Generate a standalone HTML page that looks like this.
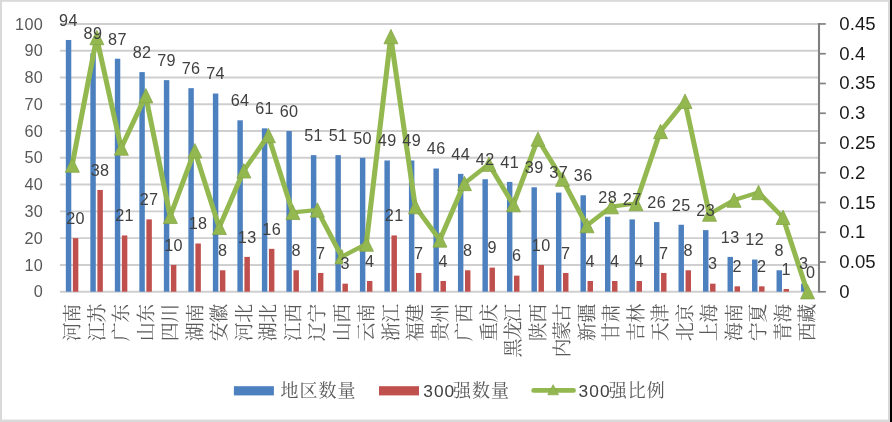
<!DOCTYPE html>
<html lang="zh"><head><meta charset="utf-8"><title>地区数量 / 300强数量 / 300强比例</title>
<style>html,body{margin:0;padding:0;background:#fff}svg{display:block;will-change:transform}text{font-family:"Liberation Sans",sans-serif}.cjk text{font-family:"Liberation Serif","Noto Serif CJK SC",serif}</style></head><body>
<svg width="892" height="422" viewBox="0 0 892 422">
<rect width="892" height="422" fill="#fff"/>
<g stroke="#CFCFD1" stroke-width="1.95">
<line x1="59.9" y1="291.7" x2="819.62" y2="291.7"/>
<line x1="59.9" y1="264.92" x2="819.62" y2="264.92"/>
<line x1="59.9" y1="238.14" x2="819.62" y2="238.14"/>
<line x1="59.9" y1="211.36" x2="819.62" y2="211.36"/>
<line x1="59.9" y1="184.58" x2="819.62" y2="184.58"/>
<line x1="59.9" y1="157.8" x2="819.62" y2="157.8"/>
<line x1="59.9" y1="131.02" x2="819.62" y2="131.02"/>
<line x1="59.9" y1="104.24" x2="819.62" y2="104.24"/>
<line x1="59.9" y1="77.46" x2="819.62" y2="77.46"/>
<line x1="59.9" y1="50.68" x2="819.62" y2="50.68"/>
<line x1="59.9" y1="23.9" x2="819.62" y2="23.9"/>
</g>
<g fill="#4D80BE"><rect x="65.83" y="39.97" width="5.45" height="251.73"/><rect x="90.34" y="53.36" width="5.45" height="238.34"/><rect x="114.84" y="58.71" width="5.45" height="232.99"/><rect x="139.35" y="72.1" width="5.45" height="219.6"/><rect x="163.86" y="80.14" width="5.45" height="211.56"/><rect x="188.37" y="88.17" width="5.45" height="203.53"/><rect x="212.87" y="93.53" width="5.45" height="198.17"/><rect x="237.38" y="120.31" width="5.45" height="171.39"/><rect x="261.89" y="128.34" width="5.45" height="163.36"/><rect x="286.39" y="131.02" width="5.45" height="160.68"/><rect x="310.9" y="155.12" width="5.45" height="136.58"/><rect x="335.41" y="155.12" width="5.45" height="136.58"/><rect x="359.91" y="157.8" width="5.45" height="133.9"/><rect x="384.42" y="160.48" width="5.45" height="131.22"/><rect x="408.93" y="160.48" width="5.45" height="131.22"/><rect x="433.44" y="168.51" width="5.45" height="123.19"/><rect x="457.94" y="173.87" width="5.45" height="117.83"/><rect x="482.45" y="179.22" width="5.45" height="112.48"/><rect x="506.96" y="181.9" width="5.45" height="109.8"/><rect x="531.46" y="187.26" width="5.45" height="104.44"/><rect x="555.97" y="192.61" width="5.45" height="99.09"/><rect x="580.48" y="195.29" width="5.45" height="96.41"/><rect x="604.98" y="216.72" width="5.45" height="74.98"/><rect x="629.49" y="219.39" width="5.45" height="72.31"/><rect x="654" y="222.07" width="5.45" height="69.63"/><rect x="678.5" y="224.75" width="5.45" height="66.95"/><rect x="703.01" y="230.11" width="5.45" height="61.59"/><rect x="727.52" y="256.89" width="5.45" height="34.81"/><rect x="752.03" y="259.56" width="5.45" height="32.14"/><rect x="776.53" y="270.28" width="5.45" height="21.42"/><rect x="801.04" y="283.67" width="5.45" height="8.03"/></g>
<g fill="#C0504D"><rect x="72.88" y="238.14" width="5.45" height="53.56"/><rect x="97.39" y="189.94" width="5.45" height="101.76"/><rect x="121.89" y="235.46" width="5.45" height="56.24"/><rect x="146.4" y="219.39" width="5.45" height="72.31"/><rect x="170.91" y="264.92" width="5.45" height="26.78"/><rect x="195.41" y="243.5" width="5.45" height="48.2"/><rect x="219.92" y="270.28" width="5.45" height="21.42"/><rect x="244.43" y="256.89" width="5.45" height="34.81"/><rect x="268.94" y="248.85" width="5.45" height="42.85"/><rect x="293.44" y="270.28" width="5.45" height="21.42"/><rect x="317.95" y="272.95" width="5.45" height="18.75"/><rect x="342.46" y="283.67" width="5.45" height="8.03"/><rect x="366.96" y="280.99" width="5.45" height="10.71"/><rect x="391.47" y="235.46" width="5.45" height="56.24"/><rect x="415.98" y="272.95" width="5.45" height="18.75"/><rect x="440.49" y="280.99" width="5.45" height="10.71"/><rect x="464.99" y="270.28" width="5.45" height="21.42"/><rect x="489.5" y="267.6" width="5.45" height="24.1"/><rect x="514.01" y="275.63" width="5.45" height="16.07"/><rect x="538.51" y="264.92" width="5.45" height="26.78"/><rect x="563.02" y="272.95" width="5.45" height="18.75"/><rect x="587.53" y="280.99" width="5.45" height="10.71"/><rect x="612.03" y="280.99" width="5.45" height="10.71"/><rect x="636.54" y="280.99" width="5.45" height="10.71"/><rect x="661.05" y="272.95" width="5.45" height="18.75"/><rect x="685.56" y="270.28" width="5.45" height="21.42"/><rect x="710.06" y="283.67" width="5.45" height="8.03"/><rect x="734.57" y="286.34" width="5.45" height="5.36"/><rect x="759.08" y="286.34" width="5.45" height="5.36"/><rect x="783.58" y="289.02" width="5.45" height="2.68"/></g>
<g stroke="#808080" fill="none">
<line x1="819" y1="23.01" x2="819" y2="292.55" stroke-width="2.1"/>
<line x1="819" y1="291.8" x2="825.8" y2="291.8" stroke-width="1.7"/>
<line x1="819" y1="262.04" x2="825.8" y2="262.04" stroke-width="1.7"/>
<line x1="819" y1="232.28" x2="825.8" y2="232.28" stroke-width="1.7"/>
<line x1="819" y1="202.52" x2="825.8" y2="202.52" stroke-width="1.7"/>
<line x1="819" y1="172.76" x2="825.8" y2="172.76" stroke-width="1.7"/>
<line x1="819" y1="143" x2="825.8" y2="143" stroke-width="1.7"/>
<line x1="819" y1="113.24" x2="825.8" y2="113.24" stroke-width="1.7"/>
<line x1="819" y1="83.48" x2="825.8" y2="83.48" stroke-width="1.7"/>
<line x1="819" y1="53.72" x2="825.8" y2="53.72" stroke-width="1.7"/>
<line x1="819" y1="23.96" x2="825.8" y2="23.96" stroke-width="1.7"/>
</g>
<g transform="scale(1,0.8235)"><polyline fill="none" stroke="#94B850" stroke-width="5.1" stroke-linejoin="round" stroke-linecap="round" points="72.15,200.43 96.66,45.62 121.17,179.75 145.67,116.23 170.18,262.72 194.69,183.03 219.2,276.07 243.7,207.4 268.21,164.64 292.72,257.84 317.22,255.01 341.73,311.69 366.24,296.39 390.74,44.46 415.25,250.96 439.76,291.36 464.27,222.8 488.77,199.33 513.28,248.44 537.79,168.89 562.29,217.47 586.8,273.9 611.31,250.96 635.81,247.13 660.32,159.62 684.83,122.93 709.34,259.94 733.84,243.02 758.35,233.75 782.86,263.86 807.36,354.21"/></g>
<path fill="#94B850" stroke="#86A647" stroke-width="0.8" stroke-linejoin="miter" d="M72.35 157.86L79.35 172.26H65.35ZM96.86 30.37L103.86 44.77H89.86ZM121.37 140.83L128.37 155.23H114.37ZM145.87 88.52L152.87 102.92H138.87ZM170.38 209.16L177.38 223.56H163.38ZM194.89 143.53L201.89 157.93H187.89ZM219.4 220.15L226.4 234.55H212.4ZM243.9 163.6L250.9 178H236.9ZM268.41 128.38L275.41 142.78H261.41ZM292.92 205.14L299.92 219.54H285.92ZM317.42 202.81L324.42 217.21H310.42ZM341.93 249.49L342.93 251.69L342.63 263.89H334.93ZM366.44 236.88L373.44 251.28H359.44ZM390.94 29.41L397.94 43.81H383.94ZM415.45 199.47L422.45 213.87H408.45ZM439.96 232.74L446.96 247.14H432.96ZM464.47 176.28L471.47 190.68H457.47ZM488.97 156.96L495.97 171.36H481.97ZM513.48 197.4L520.48 211.8H506.48ZM537.99 131.88L544.99 146.28H530.99ZM562.49 171.89L569.49 186.29H555.49ZM587 218.37L594 232.77H580ZM611.51 199.47L618.51 213.87H604.51ZM636.01 196.32L643.01 210.72H629.01ZM660.52 124.25L667.52 138.65H653.52ZM685.03 94.04L692.03 108.44H678.03ZM709.54 206.87L716.54 221.27H702.54ZM734.04 192.93L741.04 207.33H727.04ZM758.55 185.3L765.55 199.7H751.55ZM783.06 210.1L790.06 224.5H776.06ZM807.56 284.5L814.56 298.9H800.56Z"/>
<g font-size="16.2" fill="#595959" text-anchor="end" letter-spacing="0.4">
<text x="43.25" y="297.3">0</text>
<text x="43.25" y="270.52">10</text>
<text x="43.25" y="243.74">20</text>
<text x="43.25" y="216.96">30</text>
<text x="43.25" y="190.18">40</text>
<text x="43.25" y="163.4">50</text>
<text x="43.25" y="136.62">60</text>
<text x="43.25" y="109.84">70</text>
<text x="43.25" y="83.06">80</text>
<text x="43.25" y="56.28">90</text>
<text x="43.25" y="29.5">100</text>
</g>
<g font-size="18.6" fill="#1A1A1A" letter-spacing="0.1">
<text x="839.2" y="297.8">0</text>
<text x="839.2" y="268.04">0.05</text>
<text x="839.2" y="238.28">0.1</text>
<text x="839.2" y="208.52">0.15</text>
<text x="839.2" y="178.76">0.2</text>
<text x="839.2" y="149">0.25</text>
<text x="839.2" y="119.24">0.3</text>
<text x="839.2" y="89.48">0.35</text>
<text x="839.2" y="59.72">0.4</text>
<text x="839.2" y="29.96">0.45</text>
</g>
<g class="cjk" fill="#595959" font-size="19" letter-spacing="-0.6">
<text transform="translate(79.28,341.2) rotate(-90)" x="0" y="0">河南</text>
<text transform="translate(103.79,341.2) rotate(-90)" x="0" y="0">江苏</text>
<text transform="translate(128.29,341.2) rotate(-90)" x="0" y="0">广东</text>
<text transform="translate(152.8,341.2) rotate(-90)" x="0" y="0">山东</text>
<text transform="translate(177.31,341.2) rotate(-90)" x="0" y="0">四川</text>
<text transform="translate(201.81,341.2) rotate(-90)" x="0" y="0">湖南</text>
<text transform="translate(226.32,341.2) rotate(-90)" x="0" y="0">安徽</text>
<text transform="translate(250.83,341.2) rotate(-90)" x="0" y="0">河北</text>
<text transform="translate(275.33,341.2) rotate(-90)" x="0" y="0">湖北</text>
<text transform="translate(299.84,341.2) rotate(-90)" x="0" y="0">江西</text>
<text transform="translate(324.35,341.2) rotate(-90)" x="0" y="0">辽宁</text>
<text transform="translate(348.86,341.2) rotate(-90)" x="0" y="0">山西</text>
<text transform="translate(373.36,341.2) rotate(-90)" x="0" y="0">云南</text>
<text transform="translate(397.87,341.2) rotate(-90)" x="0" y="0">浙江</text>
<text transform="translate(422.38,341.2) rotate(-90)" x="0" y="0">福建</text>
<text transform="translate(446.88,341.2) rotate(-90)" x="0" y="0">贵州</text>
<text transform="translate(471.39,341.2) rotate(-90)" x="0" y="0">广西</text>
<text transform="translate(495.9,341.2) rotate(-90)" x="0" y="0">重庆</text>
<text transform="translate(520.4,357.05) rotate(-90)" x="-0.5" y="0" letter-spacing="-1.45">黑龙江</text>
<text transform="translate(544.91,341.2) rotate(-90)" x="0" y="0">陕西</text>
<text transform="translate(569.42,357.05) rotate(-90)" x="-0.5" y="0" letter-spacing="-1.45">内蒙古</text>
<text transform="translate(593.93,341.2) rotate(-90)" x="0" y="0">新疆</text>
<text transform="translate(618.43,341.2) rotate(-90)" x="0" y="0">甘肃</text>
<text transform="translate(642.94,341.2) rotate(-90)" x="0" y="0">吉林</text>
<text transform="translate(667.45,341.2) rotate(-90)" x="0" y="0">天津</text>
<text transform="translate(691.95,341.2) rotate(-90)" x="0" y="0">北京</text>
<text transform="translate(716.46,341.2) rotate(-90)" x="0" y="0">上海</text>
<text transform="translate(740.97,341.2) rotate(-90)" x="0" y="0">海南</text>
<text transform="translate(765.47,341.2) rotate(-90)" x="0" y="0">宁夏</text>
<text transform="translate(789.98,341.2) rotate(-90)" x="0" y="0">青海</text>
<text transform="translate(814.49,341.2) rotate(-90)" x="0" y="0">西藏</text>
</g>
<g font-size="16.2" fill="#404040" text-anchor="middle" letter-spacing="0.45">
<text x="68.55" y="25.77">94</text><text x="75.6" y="223.94">20</text>
<text x="93.06" y="39.16">89</text><text x="100.11" y="175.74">38</text>
<text x="117.57" y="44.51">87</text><text x="124.62" y="221.26">21</text>
<text x="142.08" y="57.9">82</text><text x="149.13" y="205.19">27</text>
<text x="166.58" y="65.94">79</text><text x="173.63" y="250.72">10</text>
<text x="191.09" y="73.97">76</text><text x="198.14" y="229.3">18</text>
<text x="215.6" y="79.33">74</text><text x="222.65" y="256.08">8</text>
<text x="240.1" y="106.11">64</text><text x="247.15" y="242.69">13</text>
<text x="264.61" y="114.14">61</text><text x="271.66" y="234.65">16</text>
<text x="289.12" y="116.82">60</text><text x="296.17" y="256.08">8</text>
<text x="313.63" y="140.92">51</text><text x="320.68" y="258.75">7</text>
<text x="338.13" y="140.92">51</text><text x="345.18" y="269.47">3</text>
<text x="362.64" y="143.6">50</text><text x="369.69" y="266.79">4</text>
<text x="387.15" y="146.28">49</text><text x="394.2" y="221.26">21</text>
<text x="411.65" y="146.28">49</text><text x="418.7" y="258.75">7</text>
<text x="436.16" y="154.31">46</text><text x="443.21" y="266.79">4</text>
<text x="460.67" y="159.67">44</text><text x="467.72" y="256.08">8</text>
<text x="485.17" y="165.02">42</text><text x="492.22" y="253.4">9</text>
<text x="509.68" y="167.7">41</text><text x="516.73" y="261.43">6</text>
<text x="534.19" y="173.06">39</text><text x="541.24" y="250.72">10</text>
<text x="558.7" y="178.41">37</text><text x="565.75" y="258.75">7</text>
<text x="583.2" y="181.09">36</text><text x="590.25" y="266.79">4</text>
<text x="607.71" y="202.52">28</text><text x="614.76" y="266.79">4</text>
<text x="632.22" y="205.19">27</text><text x="639.27" y="266.79">4</text>
<text x="656.72" y="207.87">26</text><text x="663.77" y="258.75">7</text>
<text x="681.23" y="210.55">25</text><text x="688.28" y="256.08">8</text>
<text x="705.74" y="215.91">23</text><text x="712.79" y="269.47">3</text>
<text x="730.24" y="242.69">13</text><text x="737.29" y="272.14">2</text>
<text x="754.75" y="245.36">12</text><text x="761.8" y="272.14">2</text>
<text x="779.26" y="256.08">8</text><text x="786.31" y="274.82">1</text>
<text x="803.76" y="269.47">3</text><text x="810.82" y="277.5">0</text>
</g>
<rect x="233.9" y="386.2" width="40" height="9.2" fill="#4D80BE"/>
<rect x="379" y="386.2" width="40" height="9.2" fill="#C0504D"/>
<line x1="533.6" y1="390.4" x2="573.6" y2="390.4" stroke="#94B850" stroke-width="4.6" stroke-linecap="round"/>
<path fill="#94B850" stroke="#86A647" stroke-width="0.7" d="M553.1 384.7L558.5 394.8H547.8Z"/>
<g class="cjk" fill="#595959" font-size="18" letter-spacing="1">
<text x="280.4" y="396.8">地区数量</text>
<text x="453.1" y="396.8">强数量</text>
<text x="608.7" y="396.8">强比例</text>
</g>
<g font-size="17.3" fill="#404040" letter-spacing="1.05"><text x="423.3" y="397">300</text><text x="578.6" y="397">300</text></g>
<rect x="0" y="0" width="892" height="1.8" fill="#D9D9D9"/>
<rect x="0" y="0" width="2" height="422" fill="#D9D9D9"/>
<rect x="0" y="419.6" width="892" height="2.4" fill="#D9D9D9"/>
<rect x="888" y="0" width="2.1" height="422" fill="#D9D9D9"/>
<rect x="890" y="0" width="2" height="422" fill="#000"/>
</svg></body></html>
